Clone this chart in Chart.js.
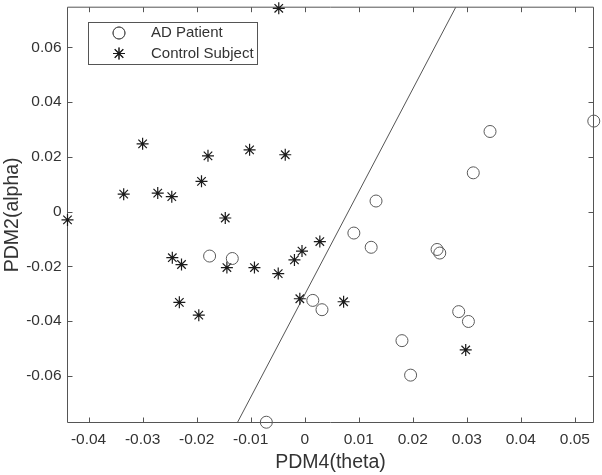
<!DOCTYPE html>
<html>
<head>
<meta charset="utf-8">
<script src="https://cdn.jsdelivr.net/npm/chart.js@4/dist/chart.umd.min.js"></script>
<style>
  html, body { margin: 0; padding: 0; background: #ffffff; }
</style>
</head>
<body>
<canvas id="pdm-scatter" width="602" height="475"></canvas>
<script>
// AD patients (circles)
var adX = [0.0535, 0.0343, 0.0312, 0.0132, 0.0091, 0.0123, 0.0245, 0.0250, 0.0015, 0.0032, 0.0285, 0.0303, 0.0180, 0.0196, -0.0176, -0.0134, -0.0071];
var adY = [0.0331, 0.0293, 0.0142, 0.0039, -0.0078, -0.0130, -0.0138, -0.0151, -0.0324, -0.0358, -0.0365, -0.0401, -0.0471, -0.0597, -0.0162, -0.0171, -0.0769];

// Control subjects (stars)
var ctrlX = [-0.0439, -0.0335, -0.0300, -0.0272, -0.0246, -0.0191, -0.0179, -0.0147, -0.0102, -0.0048, -0.0036, -0.0245, -0.0228, -0.0144, -0.0093, -0.0049, -0.0019, -0.0005, -0.0232, -0.0196, -0.0009, 0.0028, 0.0072, 0.0298];
var ctrlY = [-0.0030, 0.0064, 0.0248, 0.0068, 0.0055, 0.0111, 0.0204, -0.0023, 0.0226, 0.0743, 0.0208, -0.0168, -0.0193, -0.0204, -0.0204, -0.0226, -0.0176, -0.0144, -0.0331, -0.0378, -0.0318, -0.0109, -0.0329, -0.0505];

// separating line
var boundaryX = [-0.01245, 0.02796];
var boundaryY = [-0.0770, 0.0747];

var xRange = [-0.0439, 0.05345];
var yRange = [-0.0770, 0.0747];
var xTicks = [-0.04, -0.03, -0.02, -0.01, 0, 0.01, 0.02, 0.03, 0.04, 0.05];
var xTickLabels = ["-0.04", "-0.03", "-0.02", "-0.01", "0", "0.01", "0.02", "0.03", "0.04", "0.05"];
var yTicks = [-0.06, -0.04, -0.02, 0, 0.02, 0.04, 0.06];
var yTickLabels = ["-0.06", "-0.04", "-0.02", "0", "0.02", "0.04", "0.06"];

var fontFamily = "'Liberation Sans', Arial, Helvetica, sans-serif";
var axisColor = "#555555";
var textColor = "#333333";

function toPoints(xs, ys) {
  return xs.map(function (x, i) { return { x: x, y: ys[i] }; });
}

function labelFor(values, labels) {
  return function (value) {
    for (var i = 0; i < values.length; i++) {
      if (Math.abs(values[i] - value) < 1e-9) return labels[i];
    }
    return "";
  };
}

// box around the axes, with MATLAB style inward ticks on all sides
var frameTicks = {
  id: 'frameTicks',
  beforeDatasetsDraw: function (chart) {
    var ctx = chart.ctx;
    var a = chart.chartArea;
    var xs = chart.scales.x, ys = chart.scales.y;
    var len = 5;
    ctx.save();
    ctx.strokeStyle = axisColor;
    ctx.lineWidth = 1;
    ctx.beginPath();
    ctx.rect(a.left, a.top, a.right - a.left, a.bottom - a.top);
    xTicks.forEach(function (v) {
      var px = Math.round(xs.getPixelForValue(v)) + 0.5;
      ctx.moveTo(px, a.bottom); ctx.lineTo(px, a.bottom - len);
      ctx.moveTo(px, a.top); ctx.lineTo(px, a.top + len);
    });
    yTicks.forEach(function (v) {
      var py = Math.round(ys.getPixelForValue(v)) + 0.5;
      ctx.moveTo(a.left, py); ctx.lineTo(a.left + len, py);
      ctx.moveTo(a.right, py); ctx.lineTo(a.right - len, py);
    });
    ctx.stroke();
    ctx.restore();
  }
};

// legend box in the upper left corner
var boxLegend = {
  id: 'boxLegend',
  afterDraw: function (chart) {
    var ctx = chart.ctx;
    var left = 88.5, top = 22.5, w = 169, h = 42;
    ctx.save();
    ctx.fillStyle = "#ffffff";
    ctx.fillRect(left, top, w, h);
    ctx.strokeStyle = axisColor;
    ctx.lineWidth = 1;
    ctx.strokeRect(left, top, w, h);

    var rows = [
      { ds: chart.data.datasets[0], y: 33 },
      { ds: chart.data.datasets[1], y: 53.5 }
    ];
    rows.forEach(function (r) {
      Chart.helpers.drawPoint(ctx, {
        pointStyle: r.ds.pointStyle,
        radius: r.ds.pointRadius,
        borderWidth: r.ds.borderWidth
      }, 119, r.y);
      ctx.strokeStyle = r.ds.borderColor;
      ctx.lineWidth = r.ds.borderWidth;
      ctx.stroke();
      ctx.fillStyle = textColor;
      ctx.font = "15px " + fontFamily;
      ctx.textAlign = "left";
      ctx.textBaseline = "middle";
      ctx.fillText(r.ds.label, 151, r.y);
    });
    ctx.restore();
  }
};

var ctx = document.getElementById('pdm-scatter').getContext('2d');

new Chart(ctx, {
  type: 'scatter',
  data: {
    datasets: [
      {
        label: "AD Patient",
        data: toPoints(adX, adY),
        pointStyle: 'circle',
        pointRadius: 6,
        borderWidth: 1,
        borderColor: "#5a5a5a",
        backgroundColor: "rgba(0,0,0,0)",
        clip: false
      },
      {
        label: "Control Subject",
        data: toPoints(ctrlX, ctrlY),
        pointStyle: 'star',
        pointRadius: 6,
        borderWidth: 1.2,
        borderColor: "#1a1a1a",
        backgroundColor: "#1a1a1a",
        clip: false
      },
      {
        label: "boundary",
        data: toPoints(boundaryX, boundaryY),
        showLine: true,
        pointRadius: 0,
        borderWidth: 1,
        borderColor: "#555555",
        fill: false
      }
    ]
  },
  options: {
    responsive: false,
    animation: false,
    devicePixelRatio: 1,
    events: [],
    layout: {
      padding: { left: 0, top: 5.5, right: 8.5, bottom: 0 }
    },
    plugins: {
      legend: { display: false },
      tooltip: { enabled: false }
    },
    scales: {
      x: {
        type: 'linear',
        min: xRange[0],
        max: xRange[1],
        afterBuildTicks: function (scale) {
          scale.ticks = xTicks.map(function (v) { return { value: v }; });
        },
        afterFit: function (scale) {
          scale.height = 52.5;
          scale.paddingLeft = 0;
          scale.paddingRight = 0;
        },
        ticks: {
          autoSkip: false,
          maxRotation: 0,
          padding: 8,
          color: textColor,
          font: { family: fontFamily, size: 15.5 },
          callback: labelFor(xTicks, xTickLabels)
        },
        grid: { display: true, drawOnChartArea: false, drawTicks: false, color: "rgba(0,0,0,0)" },
        border: { display: false },
        title: {
          display: true,
          text: "PDM4(theta)",
          color: textColor,
          font: { family: fontFamily, size: 19.5 },
          padding: { top: 0, bottom: 1 }
        }
      },
      y: {
        type: 'linear',
        min: yRange[0],
        max: yRange[1],
        afterBuildTicks: function (scale) {
          scale.ticks = yTicks.map(function (v) { return { value: v }; });
        },
        afterFit: function (scale) {
          scale.width = 67.5;
          scale.paddingTop = 0;
          scale.paddingBottom = 0;
        },
        ticks: {
          autoSkip: false,
          padding: 6,
          color: textColor,
          font: { family: fontFamily, size: 15.5 },
          callback: labelFor(yTicks, yTickLabels)
        },
        grid: { display: true, drawOnChartArea: false, drawTicks: false, color: "rgba(0,0,0,0)" },
        border: { display: false },
        title: {
          display: true,
          text: "PDM2(alpha)",
          color: textColor,
          font: { family: fontFamily, size: 19.5 },
          padding: { top: 1, bottom: 0 }
        }
      }
    }
  },
  plugins: [frameTicks, boxLegend]
});
</script>
</body>
</html>
